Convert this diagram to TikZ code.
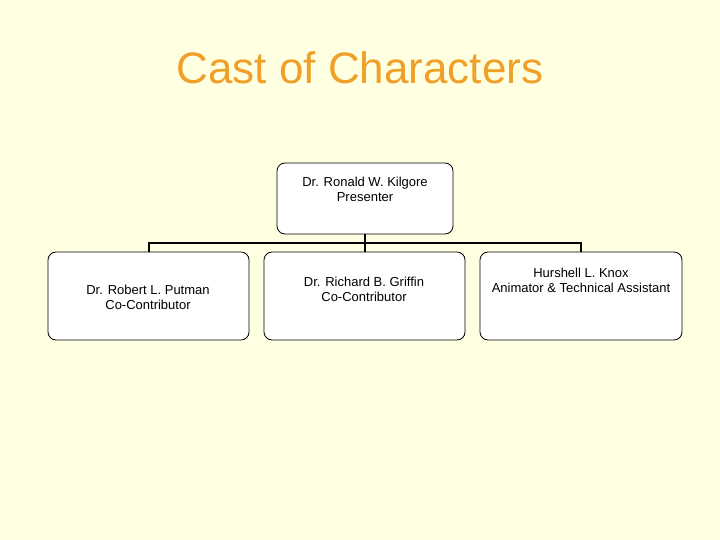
\documentclass[tikz,border=0pt]{standalone}
\usepackage{fontspec}
\setmainfont{Liberation Sans}
\definecolor{bg}{HTML}{FFFFE1}
\definecolor{ttl}{HTML}{F0A028}
\begin{document}
\begin{tikzpicture}[x=1pt,y=-1pt,
  box/.style={draw=black,fill=white,rounded corners=8pt,line width=0.8pt},
  lbl/.style={font=\fontsize{13}{15}\selectfont,align=center,inner sep=0pt},
  conn/.style={line width=1.5pt}]
\fill[bg] (0,0) rectangle (720,540);
\useasboundingbox (0,0) rectangle (720,540);
\node[font=\fontsize{44}{50}\selectfont,text=ttl] (title) at (360,68) {Cast of Characters};
\draw[box] (277,163) rectangle (453,234);
\node[lbl] (top) at (365,189) {Dr. Ronald W. Kilgore\\Presenter};
\coordinate (tb) at (365,234);
\coordinate (j) at (365,243);
\coordinate (l) at (149,243);
\coordinate (r) at (581,243);
\draw[box] (48,252) rectangle (249,340);
\draw[box] (264,252) rectangle (465,340);
\draw[box] (480,252) rectangle (682,340);
\node[lbl] (a) at (148,297) {Dr. Robert L. Putman\\Co-Contributor};
\node[lbl] (b) at (364,289) {Dr. Richard B. Griffin\\Co-Contributor};
\node[lbl] (c) at (581,280) {Hurshell L. Knox\\Animator \& Technical Assistant};
\coordinate (at) at (149,252);
\coordinate (bt) at (365,252);
\coordinate (ct) at (581,252);
\draw[conn] (tb) -- (j);
\draw[conn] (at) -- (l) -- (r) -- (ct);
\draw[conn] (j) -- (bt);
\end{tikzpicture}
\end{document}
